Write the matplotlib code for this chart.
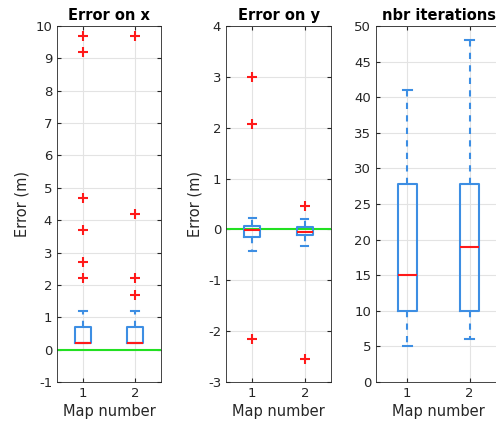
import matplotlib.pyplot as plt

plt.rcParams['axes.unicode_minus'] = False

# box statistics (map 1, map 2)
labels = ["1", "2"]

ex_whislo = [0.2, 0.2]
ex_q1 = [0.2, 0.2]
ex_med = [0.2, 0.2]
ex_q3 = [0.7, 0.7]
ex_whishi = [1.2, 1.2]
ex_fliers = [[9.7, 9.2, 4.7, 3.7, 2.7, 2.2], [9.7, 4.2, 2.2, 1.7]]

ey_whislo = [-0.42, -0.33]
ey_q1 = [-0.15, -0.10]
ey_med = [-0.01, -0.05]
ey_q3 = [0.06, 0.04]
ey_whishi = [0.23, 0.21]
ey_fliers = [[3.0, 2.08, -2.15], [0.46, -2.54]]

it_whislo = [5, 6]
it_q1 = [10, 10]
it_med = [15, 19]
it_q3 = [27.8, 27.8]
it_whishi = [41, 48]
it_fliers = [[], []]

blue = "#3d8ee3"
red = "#ff1a1a"
gray = "#262626"


def stats(lo, q1, med, q3, hi, fl):
    out = []
    for i in range(len(labels)):
        out.append(dict(whislo=lo[i], q1=q1[i], med=med[i], q3=q3[i],
                        whishi=hi[i], fliers=fl[i], label=labels[i]))
    return out


fig = plt.figure(figsize=(4.96, 4.21), dpi=100)
W, H = 496.0, 421.0
boxes = [
    (57, 161, "Error on x", (-1, 10), range(-1, 11), "Error (m)",
     stats(ex_whislo, ex_q1, ex_med, ex_q3, ex_whishi, ex_fliers), True),
    (226, 331, "Error on y", (-3, 4), range(-3, 5), "Error (m)",
     stats(ey_whislo, ey_q1, ey_med, ey_q3, ey_whishi, ey_fliers), True),
    (376, 501, "nbr iterations", (0, 50), range(0, 51, 5), None,
     stats(it_whislo, it_q1, it_med, it_q3, it_whishi, it_fliers), False),
]

for x0, x1, title, ylim, yt, ylab, st, zero in boxes:
    ax = fig.add_axes([x0 / W, (H - 382) / H, (x1 - x0) / W, (382 - 26) / H])
    ax.grid(True, color="#e3e3e3", lw=0.8)
    ax.set_axisbelow(True)
    ax.bxp(st, positions=[1, 2], widths=0.3, capwidths=0.14,
           boxprops=dict(color=blue, lw=1.5),
           whiskerprops=dict(color=blue, lw=1.5, ls=(0, (3, 3))),
           capprops=dict(color=blue, lw=1.5),
           medianprops=dict(color=red, lw=1.5),
           flierprops=dict(marker="+", markeredgecolor=red, markersize=7, mew=1.5))
    if zero:
        ax.axhline(0, color="#22e022", lw=1.5, zorder=1)
    ax.set_xlim(0.5, 2.5)
    ax.set_ylim(*ylim)
    ax.set_yticks(list(yt))
    ax.set_xticks([1, 2])
    ax.set_xticklabels(labels)
    ax.tick_params(direction="in", top=True, right=True, labelsize=9.5,
                   colors=gray, length=3)
    for s in ax.spines.values():
        s.set_color(gray)
        s.set_linewidth(0.6)
    ax.set_xlabel("Map number", fontsize=10.5, color=gray, labelpad=3)
    if ylab:
        ax.set_ylabel(ylab, fontsize=10.5, color=gray, labelpad=4)
    ax.set_title(title, fontsize=10.5, fontweight="bold", pad=4)

fig.savefig("out.png", dpi=100)
